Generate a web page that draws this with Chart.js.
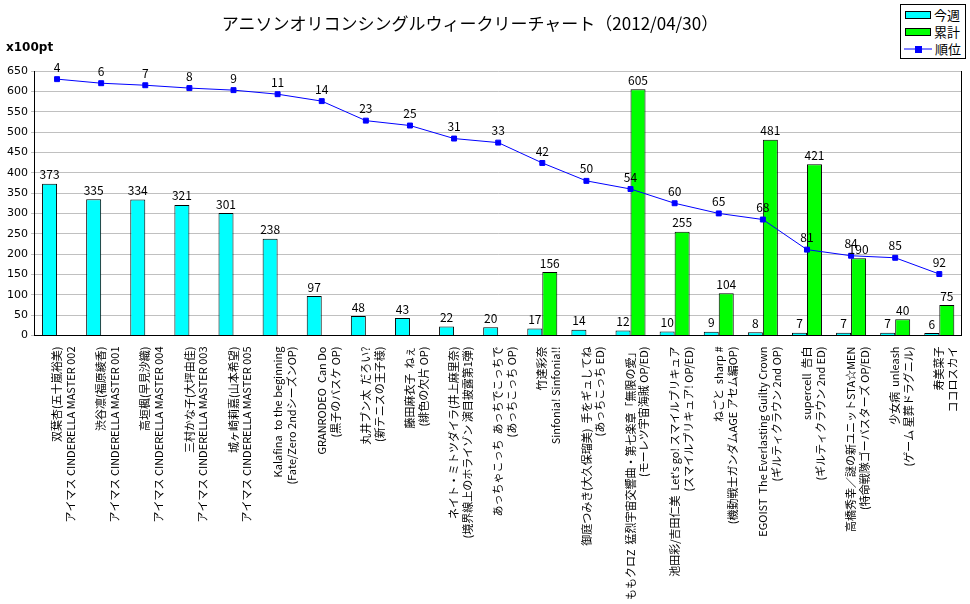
<!DOCTYPE html>
<html>
<head>
<meta charset="utf-8">
<script src="https://cdn.jsdelivr.net/npm/chart.js@4"></script>
<style>
body { margin: 0; background: #fff; font-family: "Noto Sans CJK JP", sans-serif; }
#wrap { position: relative; width: 970px; height: 604px; }
#title { position: absolute; left: 0; width: 940px; top: 10px; text-align: center; font-size: 17px; }
#unit { position: absolute; left: 6px; top: 40px; font-size: 12px; font-weight: bold; font-family: "DejaVu Sans", sans-serif; }
#legend { position: absolute; left: 900px; top: 4px; width: 64px; border: 1px solid #000; font-size: 13px; background: #fff; padding: 1px 0; white-space: nowrap; }
#legend div { height: 17px; line-height: 17px; display: flex; align-items: center; }
.sw { width: 24px; height: 6px; border: 1px solid #000; margin: 0 3px 0 4px; flex: none; }
</style>
</head>
<body>
<div id="wrap">
  <canvas id="c" width="970" height="604"></canvas>
  <div id="title">アニソンオリコンシングルウィークリーチャート（2012/04/30）</div>
  <div id="unit">x100pt</div>
  <div id="legend">
    <div><span class="sw" style="background:#00ffff"></span>今週</div>
    <div><span class="sw" style="background:#00ff00"></span>累計</div>
    <div><svg width="28" height="8" style="margin:0 3px 0 3px;flex:none"><line x1="0" y1="4" x2="28" y2="4" stroke="#0000ff"/><rect x="11" y="1" width="7" height="7" fill="#0000ff"/></svg>順位</div>
  </div>
</div>
<script>
const categories = [
    ['双葉杏(五十嵐裕美)', 'アイマス CINDERELLA MASTER 002'],
    ['渋谷凛(福原綾香)', 'アイマス CINDERELLA MASTER 001'],
    ['高垣楓(早見沙織)', 'アイマス CINDERELLA MASTER 004'],
    ['三村かな子(大坪由佳)', 'アイマス CINDERELLA MASTER 003'],
    ['城ヶ崎莉嘉(山本希望)', 'アイマス CINDERELLA MASTER 005'],
    ['Kalafina  to the beginning', '(Fate/Zero 2ndシーズンOP)'],
    ['GRANRODEO  Can Do', '(黒子のバスケ OP)'],
    ['丸井ブン太  だろい?', '(新テニスの王子様)'],
    ['藤田麻衣子  ねぇ', '(緋色の欠片 OP)'],
    ['ネイト・ミトツダイラ(井上麻里奈)', '(境界線上のホライゾン 演目披露第1弾)'],
    ['あっちゃこっち  あっちでこっちで', '(あっちこっち OP)'],
    ['竹達彩奈', 'Sinfonia! Sinfonia!!'],
    ['御庭つみき(大久保瑠美)  手をギュしてね', '(あっちこっち ED)'],
    ['ももクロZ  猛烈宇宙交響曲・第七楽章「無限の愛」', '(モーレツ宇宙海賊 OP/ED)'],
    ['池田彩/吉田仁美  Let\'s go! スマイルプリキュア', '(スマイルプリキュア! OP/ED)'],
    ['ねごと  sharp #', '(機動戦士ガンダムAGE アセム編OP)'],
    ['EGOIST  The Everlasting Guilty Crown', '(ギルティクラウン 2nd OP)'],
    ['supercell  告白', '(ギルティクラウン 2nd ED)'],
    ['高橋秀幸／謎の新ユニットSTA☆MEN', '(特命戦隊ゴーバスターズ OP/ED)'],
    ['少女病  unleash', '(ゲーム 星葬ドラグニル)'],
    ['寿美菜子', 'ココロスカイ']
];
const thisWeek = [373, 335, 334, 321, 301, 238, 97, 48, 43, 22, 20, 17, 14, 12, 10, 9, 8, 7, 7, 7, 6];
const total = [null, null, null, null, null, null, null, null, null, null, null, 156, null, 605, 255, 104, 481, 421, 190, 40, 75];
const rank = [4, 6, 7, 8, 9, 11, 14, 23, 25, 31, 33, 42, 50, 54, 60, 65, 68, 81, 84, 85, 92];
// where the rank line sits on the pt axis
const rankLevel = [630, 620, 615, 608, 603, 593, 576, 528, 516, 484, 474, 424, 380, 360, 325, 300, 285, 211, 196, 191, 151];

const labelFont = '12px "Noto Sans CJK JP", sans-serif';

const valueLabels = {
    id: 'valueLabels',
    afterDatasetsDraw(chart) {
        const ctx = chart.ctx;
        ctx.save();
        ctx.font = labelFont;
        ctx.fillStyle = '#000';
        ctx.textAlign = 'center';
        ctx.textBaseline = 'bottom';
        chart.data.datasets.forEach((ds, i) => {
            const meta = chart.getDatasetMeta(i);
            meta.data.forEach((el, j) => {
                if (ds.data[j] == null) return;
                const text = ds.type === 'line' ? rank[j] : ds.data[j];
                ctx.fillText(String(text), el.x, el.y - (ds.type === 'line' ? 6 : 3));
            });
        });
        ctx.restore();
    }
};

new Chart(document.getElementById('c'), {
    type: 'bar',
    data: {
        labels: categories,
        datasets: [
            { type: 'line', label: '順位', data: rankLevel, borderColor: '#0000ff', backgroundColor: '#0000ff', borderWidth: 1, pointStyle: 'rect', pointRadius: 3.5, tension: 0, order: 0 },
            { label: '今週', data: thisWeek, backgroundColor: '#00ffff', borderColor: '#000', borderWidth: 1, order: 1 },
            { label: '累計', data: total, backgroundColor: '#00ff00', borderColor: '#000', borderWidth: 1, order: 1 }
        ]
    },
    options: {
        responsive: false,
        animation: false,
        layout: { padding: { top: 71, right: 0, left: 4, bottom: 4 } },
        categoryPercentage: 0.68,
        barPercentage: 1.0,
        plugins: { legend: { display: false }, tooltip: { enabled: false } },
        scales: {
            x: {
                grid: { display: false },
                border: { color: '#000' },
                ticks: {
                    autoSkip: false, minRotation: 90, maxRotation: 90,
                    color: '#000', font: { size: 11, family: '"Noto Sans CJK JP", sans-serif', lineHeight: 1.25 }
                }
            },
            y: {
                min: 0, max: 650,
                ticks: { stepSize: 50, color: '#000', font: { size: 11, family: '"DejaVu Sans", sans-serif' } },
                grid: { color: '#c0c0c0', drawTicks: true, tickLength: 4 },
                border: { color: '#000' }
            },
            y2: {
                position: 'right', min: 0, max: 650,
                ticks: { display: false, stepSize: 50 },
                grid: { display: false },
                border: { color: '#000' }
            }
        }
    },
    plugins: [valueLabels]
});
</script>
</body>
</html>
